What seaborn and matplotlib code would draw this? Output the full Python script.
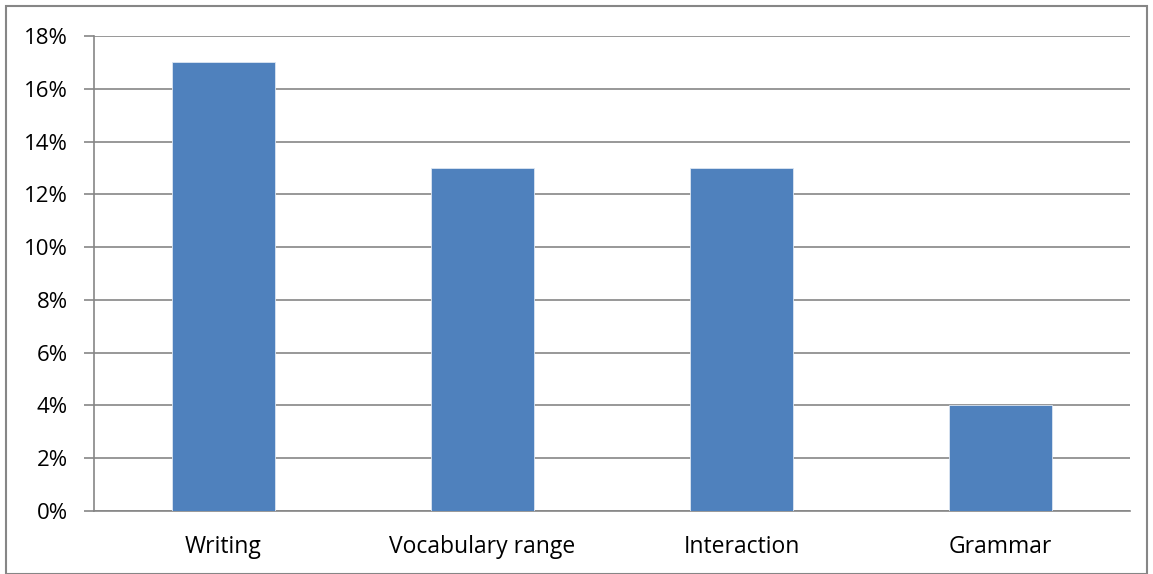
import numpy as np
import pandas as pd
import matplotlib.pyplot as plt
import seaborn as sns
from matplotlib.patches import Rectangle
from matplotlib.ticker import FuncFormatter, FixedLocator

# data
categories = ["Writing", "Vocabulary range", "Interaction", "Grammar"]
values = [17, 13, 13, 4]
y_ticks = [0, 2, 4, 6, 8, 10, 12, 14, 16, 18]

df = pd.DataFrame({"skill": categories, "pct": values})

sns.set_style("white")
plt.rcParams['font.family'] = ['Open Sans', 'DejaVu Sans']

fig = plt.figure(figsize=(11.53, 5.74), dpi=100)
ax = fig.add_axes([94 / 1153, 63 / 574, 1036 / 1153, 475 / 574])

sns.barplot(data=df, x="skill", y="pct", color="#4F81BD", width=0.4,
            saturation=1, edgecolor="#DCE6F2", linewidth=0.6, ax=ax, zorder=3)

grid_c = "#868686"
ax.set_ylim(0, 18)
ax.set_xlim(-0.5, len(categories) - 0.5)
ax.set_yticks(y_ticks)
ax.yaxis.set_major_formatter(FuncFormatter(lambda v, p: f"{int(v)}%"))
ax.grid(axis="y", color=grid_c, linewidth=1.2, zorder=0)
ax.set_axisbelow(True)

# category boundary ticks on x
ax.xaxis.set_minor_locator(FixedLocator(np.arange(-0.5, len(categories), 1.0)))
ax.tick_params(axis="x", which="major", length=0, pad=17, labelsize=16.5, colors="black")
ax.tick_params(axis="x", which="minor", length=7, width=1.2, color=grid_c, direction="out")
ax.tick_params(axis="y", length=7, width=1.2, color=grid_c, labelsize=16, pad=12,
               left=True, labelcolor="black")

for side in ["top", "right"]:
    ax.spines[side].set_visible(False)
for side in ["left", "bottom"]:
    ax.spines[side].set_color(grid_c)
    ax.spines[side].set_linewidth(1.2)

ax.set_xlabel("")
ax.set_ylabel("")

# outer chart border
fig.patches.append(Rectangle((6 / 1153, 0), 1 - 12 / 1153, 1 - 6 / 574,
                             transform=fig.transFigure, fill=False,
                             edgecolor=grid_c, linewidth=1.5))

fig.savefig("out.png", dpi=100)
